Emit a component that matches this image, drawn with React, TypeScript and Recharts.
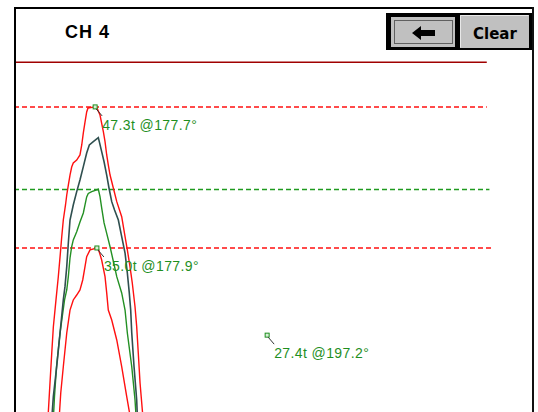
import { ComposedChart, Line, Scatter, XAxis, YAxis } from "recharts";

// load (t) against crank angle (deg)
const upperLimit: [number, number][] = [
  [172.37, 20.4], [172.58, 23.23], [172.78, 25.85], [172.96, 28.11], [173.26, 30.47], [173.52, 32.47],
  [173.72, 34.22], [173.91, 35.96], [174.09, 37.44], [174.34, 38.75], [174.48, 39.62], [174.66, 40.49],
  [174.85, 41.36], [175.04, 42.06], [175.22, 42.41], [175.61, 42.67], [175.98, 43.11], [176.18, 43.98],
  [176.36, 45.03], [176.55, 45.98], [176.74, 46.86], [176.89, 47.21], [177.7, 47.3], [177.91, 47.21],
  [178.25, 46.59], [178.63, 45.14], [178.82, 44.27], [179.01, 43.11], [179.19, 42.24], [179.39, 41.36],
  [179.76, 40.23], [180.15, 39.04], [180.71, 37.73], [181.09, 35.99], [181.35, 34.83], [181.65, 33.37],
  [181.91, 31.95], [182.22, 29.88], [182.41, 28.14], [182.59, 25.85], [182.79, 23.23], [183.1, 20.4],
];

const actualLoad: [number, number][] = [
  [172.81, 20.4], [172.96, 22.04], [173.34, 24.65], [173.72, 27.59], [174.09, 30.47], [174.28, 31.63],
  [174.48, 33.37], [174.66, 35.44], [174.85, 37.44], [175.22, 38.75], [175.61, 39.91], [175.98, 40.93],
  [176.36, 42.09], [176.74, 43.28], [177.04, 43.98], [177.49, 44.27], [178.06, 44.62], [178.17, 44.27],
  [178.44, 43.4], [178.71, 42.52], [179.01, 41.36], [179.27, 40.23], [179.58, 39.04], [179.9, 38.31],
  [180.33, 37.44], [180.71, 35.99], [181.09, 34.56], [181.35, 32.82], [181.57, 31.08], [181.73, 29.59],
  [181.85, 27.59], [182.11, 24.65], [182.41, 21.75], [182.48, 20.4],
];

const referenceLoad: [number, number][] = [
  [172.98, 20.4], [173.09, 22.04], [173.32, 24.65], [173.72, 27.59], [174.23, 30.47], [174.48, 31.34],
  [174.66, 32.5], [174.85, 34.13], [175.04, 35.11], [175.22, 35.7], [175.61, 36.42], [175.98, 37.27],
  [176.36, 38.05], [176.55, 38.75], [176.74, 39.45], [176.92, 39.75], [177.31, 39.91], [178.06, 40.12],
  [178.25, 39.47], [178.44, 38.49], [178.71, 37.18], [179.01, 36.28], [179.39, 35.11], [179.73, 33.95],
  [180.15, 32.5], [180.71, 31.08], [181.09, 29.59], [181.35, 27.59], [181.85, 24.65], [182.22, 21.75],
  [182.33, 20.4],
];

const lowerLimit: [number, number][] = [
  [173.64, 20.4], [173.8, 22.36], [174.09, 24.65], [174.48, 27.59], [174.85, 29.59], [175.22, 30.47],
  [175.61, 30.9], [175.98, 31.34], [176.29, 32.21], [176.55, 33.37], [176.74, 34.24], [177.12, 34.83],
  [177.9, 35.0], [178.1, 34.83], [178.44, 33.95], [178.82, 32.5], [179.01, 31.08], [179.19, 29.59],
  [179.58, 28.72], [180.15, 26.98], [180.71, 24.65], [181.28, 22.04], [181.65, 20.4],
];

const peakLabels = ["47.3t @177.7°", "35.0t @177.9°", "27.4t @197.2°"];
const peakDeg = [177.7, 177.9, 197.2];
const peakTon = [47.3, 35.0, 27.4];

// horizontal guides: [tons, end angle]
const capacityLine: [number, number] = [51.2, 222.1];
const upperPeakLine: [number, number] = [47.3, 222.1];
const refPeakLine: [number, number] = [40.1, 222.4];
const lowerPeakLine: [number, number] = [35.0, 222.6];
const startDeg = 168.5;

const toRows = (pts: [number, number][]) => pts.map(([deg, t]) => ({ deg, t }));
const guide = ([t, end]: [number, number]) => [{ deg: startDeg, t }, { deg: end, t }];
const markers = peakLabels.map((label, i) => ({ deg: peakDeg[i], t: peakTon[i], label }));

const GREEN = "#1f8f1f";
const RED = "#ff1010";

function PeakMarker(props: any) {
  const { cx, cy, payload } = props;
  if (cx == null || cy == null) return null;
  return (
    <g>
      <rect x={cx - 2} y={cy - 2} width={4} height={4} fill="#d8f0d8" stroke={GREEN} strokeWidth={1} />
      <line x1={cx + 1} y1={cy + 2} x2={cx + 7} y2={cy + 9} stroke="#333" strokeWidth={1} />
      <text x={cx + 7} y={cy + 23} fill={GREEN} fontSize={14} fontFamily="Liberation Sans, Arial, sans-serif" letterSpacing={0.4}>
        {payload.label}
      </text>
    </g>
  );
}

function Chrome() {
  return (
    <svg width={538} height={412} style={{ position: "absolute", left: 0, top: 0, pointerEvents: "none" }}>
      <rect x={14} y={7} width={520} height={2} fill="#000" />
      <rect x={14} y={7} width={2} height={405} fill="#000" />
      <rect x={532} y={7} width={2} height={405} fill="#111" />
      <text x={65} y={38} fontSize={18} fontWeight="bold" fontFamily="Liberation Sans, Arial, sans-serif" letterSpacing={1}>
        CH 4
      </text>
      <rect x={386} y={13} width={146} height={37} fill="#000" />
      <rect x={391} y={17} width={64} height={30} fill="#c0c0c0" />
      <rect x={394.5} y={20.5} width={58} height={23} fill="none" stroke="#000" strokeDasharray="1 1" />
      <polygon points="412,33 421,26 421,30 435,30 435,36 421,36 421,40" fill="#000" />
      <rect x={460} y={15} width={69} height={33} fill="#c0c0c0" />
      <line x1={460.5} y1={15.5} x2={528.5} y2={15.5} stroke="#e8e8e8" />
      <line x1={460.5} y1={15.5} x2={460.5} y2={47.5} stroke="#e8e8e8" />
      <text x={473} y={39} fontSize={15} fontWeight="bold" fontFamily="DejaVu Sans, sans-serif">
        Clear
      </text>
    </svg>
  );
}

export default function App() {
  return (
    <div style={{ position: "absolute", left: 0, top: 0, width: 538, height: 412, background: "#fff", overflow: "hidden" }}>
      <ComposedChart width={538} height={412} margin={{ top: 53, right: 8, bottom: 0, left: 14 }}>
        <XAxis dataKey="deg" type="number" domain={[168.5, 227]} allowDataOverflow hide />
        <YAxis type="number" domain={[20.7, 52]} allowDataOverflow hide />
        <Line data={guide(capacityLine)} dataKey="t" stroke="#a00000" strokeWidth={1.5} dot={false} isAnimationActive={false} />
        <Line data={guide(upperPeakLine)} dataKey="t" stroke={RED} strokeWidth={1.5} strokeDasharray="5 3" dot={false} isAnimationActive={false} />
        <Line data={guide(refPeakLine)} dataKey="t" stroke="#1f9a1f" strokeWidth={1.5} strokeDasharray="5 3" dot={false} isAnimationActive={false} />
        <Line data={guide(lowerPeakLine)} dataKey="t" stroke={RED} strokeWidth={1.5} strokeDasharray="5 3" dot={false} isAnimationActive={false} />
        <Line data={toRows(upperLimit)} dataKey="t" stroke={RED} strokeWidth={1.4} dot={false} isAnimationActive={false} />
        <Line data={toRows(lowerLimit)} dataKey="t" stroke={RED} strokeWidth={1.4} dot={false} isAnimationActive={false} />
        <Line data={toRows(referenceLoad)} dataKey="t" stroke="#239023" strokeWidth={1.4} dot={false} isAnimationActive={false} />
        <Line data={toRows(actualLoad)} dataKey="t" stroke="#2f4f4f" strokeWidth={1.6} dot={false} isAnimationActive={false} />
        <Scatter data={markers} dataKey="t" shape={<PeakMarker />} isAnimationActive={false} />
      </ComposedChart>
      <Chrome />
    </div>
  );
}
